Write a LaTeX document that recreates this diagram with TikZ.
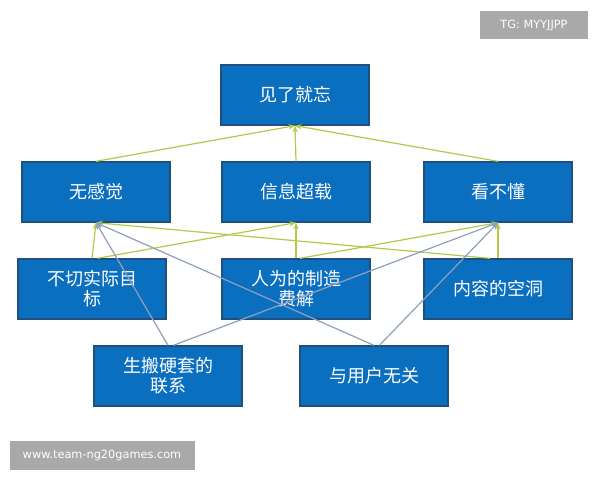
\documentclass[tikz,border=0pt]{standalone}
\usepackage{fontspec}
\setmainfont{Noto Sans CJK SC}
\newfontfamily\wm{DejaVu Sans}
\usetikzlibrary{arrows.meta}
\definecolor{boxblue}{HTML}{0B6FC0}
\definecolor{boxedge}{HTML}{1E4F7E}
\definecolor{ylw}{HTML}{B4C84A}
\definecolor{gry}{HTML}{8FA0BC}
\definecolor{wmgray}{HTML}{A9A9A9}
\tikzset{
  bx/.style={draw=boxedge,line width=1pt,fill=boxblue,text=white,font=\fontsize{13.5pt}{15pt}\selectfont,align=center,inner sep=0pt},
  yl/.style={draw=ylw,line width=0.9pt,-{Stealth[length=5pt,width=4pt,open]}},
  gl/.style={draw=gry,line width=0.9pt,-{Stealth[length=5pt,width=4pt,open]}},
  wmbox/.style={fill=wmgray,text=white,font=\wm\fontsize{8.5pt}{10pt}\selectfont,inner sep=0pt}
}
\begin{document}
\begin{tikzpicture}[x=0.75pt,y=-0.75pt]
\useasboundingbox (0,0) rectangle (600,480);
\fill[white] (0,0) rectangle (600,480);
\newcommand\bxat[4]{\node[bx,minimum width=148*0.75pt,minimum height=60*0.75pt] (#1) at (#2,#3) {#4};}
\bxat{top}{295}{95}{见了就忘}
\bxat{a}{96}{192}{无感觉}
\bxat{b}{296}{192}{信息超载}
\bxat{c}{498}{192}{看不懂}
\bxat{d}{92}{289}{不切实际目\\标}
\bxat{e}{296}{289}{人为的制造\\费解}
\bxat{f}{498}{289}{内容的空洞}
\bxat{g}{168}{376}{生搬硬套的\\联系}
\bxat{h}{374}{376}{与用户无关}
\coordinate (at) at ([xshift=0pt]a.south);
\coordinate (bt) at (b.south);
\coordinate (ct) at (c.south);
\coordinate (tt) at (top.south);
% yellow
\draw[yl] (a.north) -- (tt);
\draw[yl] (b.north) -- (tt);
\draw[yl] (c.north) -- (tt);
\draw[yl] (d.north) -- (at);
\draw[yl] ([xshift=4pt]d.north) -- (bt);
\draw[yl] (e.north) -- (bt);
\draw[yl] ([xshift=3pt]e.north) -- (ct);
\draw[yl] (f.north) -- (ct);
\draw[yl] ([xshift=-6pt]f.north) -- (at);
% gray
\draw[gl] (g.north) -- (at);
\draw[gl] ([xshift=4pt]g.north) -- (ct);
\draw[gl] (h.north) -- (at);
\draw[gl] ([xshift=4pt]h.north) -- (ct);
\node[wmbox,minimum width=108*0.75pt,minimum height=28*0.75pt] (tg) at (534,25) {TG: MYYJJPP};
\node[wmbox,minimum width=185*0.75pt,minimum height=29*0.75pt] (www) at (102,455) {www.team-ng20games.com};
\end{tikzpicture}
\end{document}
